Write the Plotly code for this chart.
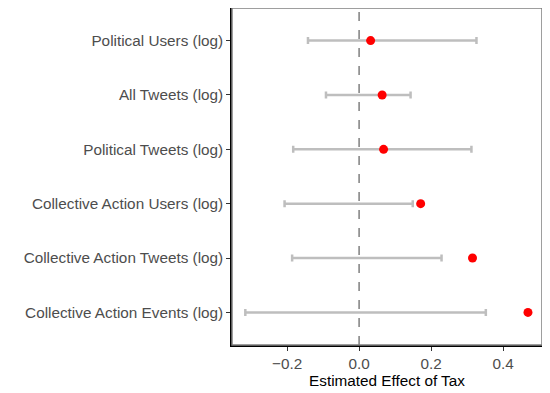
import plotly.graph_objects as go

# outcomes from top to bottom as shown
outcomes = ["Political Users (log)", "All Tweets (log)", "Political Tweets (log)",
            "Collective Action Users (log)", "Collective Action Tweets (log)",
            "Collective Action Events (log)"]
estimate = [0.032, 0.064, 0.068, 0.171, 0.315, 0.469]
ci_low = [-0.142, -0.092, -0.183, -0.207, -0.186, -0.316]
ci_high = [0.326, 0.143, 0.312, 0.149, 0.229, 0.352]

mid = [(lo + hi) / 2 for lo, hi in zip(ci_low, ci_high)]
half = [(hi - lo) / 2 for lo, hi in zip(ci_low, ci_high)]

fig = go.Figure()

# confidence intervals
fig.add_trace(go.Scatter(
    x=mid, y=outcomes, mode="markers",
    marker=dict(size=1, color="rgba(0,0,0,0)"),
    error_x=dict(type="data", array=half, symmetric=True,
                 color="#BEBEBE", thickness=2.5, width=3.5),
    hoverinfo="skip", showlegend=False,
))

# point estimates
fig.add_trace(go.Scatter(
    x=estimate, y=outcomes, mode="markers",
    marker=dict(size=9, color="#FF0000"),
    showlegend=False,
))

fig.add_shape(type="line", x0=0, x1=0, y0=0, y1=1, xref="x", yref="paper",
              line=dict(color="#7F7F7F", width=1.5, dash="dash"), layer="below")

# panel border (gray)
fig.add_shape(type="rect", x0=0, x1=1, y0=0, y1=1, xref="paper", yref="paper",
              line=dict(color="#7F7F7F", width=1.5))

fig.update_xaxes(
    range=[-0.353, 0.508], tickvals=[-0.2, 0.0, 0.2, 0.4],
    ticktext=["\u22120.2", "0.0", "0.2", "0.4"],
    showgrid=False, zeroline=False,
    showline=True, linecolor="black", linewidth=1.5,
    ticks="outside", ticklen=4, tickcolor="#333333",
    tickfont=dict(size=15.3, color="#4D4D4D"),
    title=dict(text="Estimated Effect of Tax", font=dict(size=15.3, color="black"), standoff=0),
)
fig.update_yaxes(
    categoryorder="array", categoryarray=outcomes[::-1],
    range=[-0.6, 5.6],
    showgrid=False, zeroline=False,
    showline=True, linecolor="black", linewidth=1.5,
    ticks="outside", ticklen=4, tickcolor="#333333",
    tickfont=dict(size=15.3, color="#4D4D4D"),
)

# page body adds 8px offset, so size/margins are reduced accordingly
fig.update_layout(
    width=542, height=385,
    margin=dict(l=224, r=8, t=0, b=48),
    plot_bgcolor="white", paper_bgcolor="white",
    font=dict(family="Liberation Sans, Arial, sans-serif"),
)

fig.write_html("out.html")
